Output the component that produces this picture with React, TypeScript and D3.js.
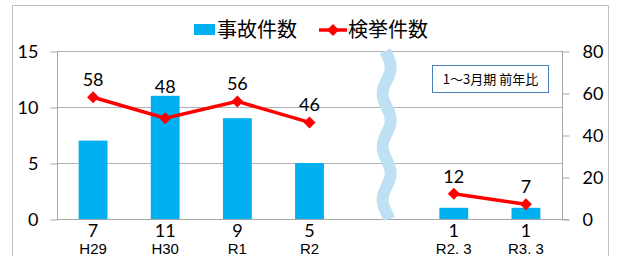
import React, { useEffect, useRef } from "react";
import * as d3 from "d3";

// categories (the empty slot is where the wave break sits)
const categories = ["H29", "H30", "R1", "R2", "gap", "R2. 3", "R3. 3"];
const accidents: (number | null)[] = [7, 11, 9, 5, null, 1, 1];
const arrests: (number | null)[] = [58, 48, 56, 46, null, 12, 7];
const leftTicks = [0, 5, 10, 15];
const rightTicks = [0, 20, 40, 60, 80];

const W = 618;
const H = 256;
const margin = { top: 51, left: 57, right: 56, bottom: 37 };

export default function App() {
  const ref = useRef<SVGSVGElement>(null);

  useEffect(() => {
    const svg = d3.select(ref.current);
    svg.selectAll("*").remove();

    const x = d3.scaleBand()
      .domain(categories)
      .range([margin.left, W - margin.right])
      .paddingInner(0.6)
      .paddingOuter(0.3);
    const yL = d3.scaleLinear().domain([0, 15]).range([H - margin.bottom, margin.top]);
    const yR = d3.scaleLinear().domain([0, 80]).range([H - margin.bottom, margin.top]);
    const x0 = margin.left, x1 = W - margin.right;
    const num = "Lato, 'Open Sans', sans-serif";
    const mid = (c: string) => x(c)! + x.bandwidth() / 2;

    // outer frame
    svg.append("path")
      .attr("d", `M12.5,${H}V5.5H608.5V${H}`)
      .attr("fill", "none")
      .attr("stroke", "#bfbfbf");

    // gridlines
    svg.append("g").selectAll("line").data(leftTicks.filter(t => t > 0)).join("line")
      .attr("x1", x0).attr("x2", x1)
      .attr("y1", d => Math.round(yL(d)) + 0.5).attr("y2", d => Math.round(yL(d)) + 0.5)
      .attr("stroke", "#b0b0b0");

    // axes
    const gl = svg.append("g").attr("transform", `translate(${x0 + 0.5},0.5)`)
      .call(d3.axisLeft(yL).tickValues(leftTicks).tickSize(7).tickPadding(12));
    const gr = svg.append("g").attr("transform", `translate(${x1 + 0.5},0.5)`)
      .call(d3.axisRight(yR).tickValues(rightTicks).tickSize(7).tickPadding(13));
    [gl, gr].forEach(g => {
      g.select(".domain").remove();
      g.selectAll(".tick line").attr("stroke", "#a6a6a6");
      g.selectAll("text").attr("font-family", num).attr("font-size", 18).attr("fill", "#000");
    });
    svg.append("line").attr("x1", x0 + 0.5).attr("x2", x0 + 0.5)
      .attr("y1", yL(15)).attr("y2", yL(0)).attr("stroke", "#a6a6a6");
    svg.append("line").attr("x1", x1 + 0.5).attr("x2", x1 + 0.5)
      .attr("y1", yL(15)).attr("y2", yL(0)).attr("stroke", "#a6a6a6");

    // bars
    svg.append("g").selectAll("rect")
      .data(categories.map((c, i) => ({ c, v: accidents[i] })).filter(d => d.v != null))
      .join("rect")
      .attr("x", d => x(d.c)!)
      .attr("width", x.bandwidth())
      .attr("y", d => yL(d.v as number))
      .attr("height", d => yL(0) - yL(d.v as number))
      .attr("fill", "#00b0f0");

    // baseline
    svg.append("line").attr("x1", x0).attr("x2", x1 + 7)
      .attr("y1", Math.round(yL(0)) + 0.5).attr("y2", Math.round(yL(0)) + 0.5)
      .attr("stroke", "#a6a6a6");

    // wave break
    const cx = mid("gap") + 5;
    const wave: [number, number][] = d3.range(yL(15), yL(0) + 0.1, 1)
      .map(y => [cx + 4 * Math.sin((2 * Math.PI * (y - 54)) / 53), y]);
    svg.append("path")
      .attr("d", d3.line()(wave)!)
      .attr("fill", "none")
      .attr("stroke", "#bde0f3")
      .attr("stroke-width", 12);

    // line series
    const pts = categories.map((c, i) => ({ c, v: arrests[i], b: accidents[i] }));
    const line = d3.line<{ c: string; v: number | null }>()
      .defined(d => d.v != null)
      .x(d => mid(d.c))
      .y(d => yR(d.v as number));
    svg.append("path")
      .attr("d", line(pts)!)
      .attr("fill", "none")
      .attr("stroke", "#ff0000")
      .attr("stroke-width", 3.5);
    const diamond = d3.symbol(d3.symbolSquare, 72)();
    svg.append("g").selectAll("path")
      .data(pts.filter(d => d.v != null))
      .join("path")
      .attr("d", diamond)
      .attr("transform", d => `translate(${mid(d.c)},${yR(d.v as number)}) rotate(45)`)
      .attr("fill", "#ff0000");

    // line labels (lifted above the bar when the bar top is higher)
    svg.append("g").selectAll("text")
      .data(pts.filter(d => d.v != null))
      .join("text")
      .attr("x", d => mid(d.c))
      .attr("y", d => {
        const m = yR(d.v as number);
        const b = yL(d.b as number);
        return b < m ? b - 3 : m - 11;
      })
      .attr("text-anchor", "middle")
      .attr("font-family", num).attr("font-size", 18)
      .text(d => String(d.v));

    // bar values + category labels below axis
    const cats = categories.map((c, i) => ({ c, v: accidents[i] })).filter(d => d.v != null);
    svg.append("g").selectAll("text")
      .data(cats).join("text")
      .attr("x", d => mid(d.c))
      .attr("y", 237)
      .attr("text-anchor", "middle")
      .attr("font-family", num).attr("font-size", 18)
      .text(d => String(d.v));
    svg.append("g").selectAll("text")
      .data(cats).join("text")
      .attr("x", d => mid(d.c))
      .attr("y", 254)
      .attr("text-anchor", "middle")
      .attr("font-family", "'Liberation Sans Narrow', 'Liberation Sans', Arial, sans-serif").attr("font-size", 15)
      .text(d => d.c);

    // annotation box
    svg.append("rect")
      .attr("x", 432.5).attr("y", 65.5).attr("width", 116).attr("height", 27)
      .attr("fill", "#fff").attr("stroke", "#4a7ebb");
    svg.append("text")
      .attr("x", 490.5).attr("y", 84)
      .attr("text-anchor", "middle")
      .attr("font-family", "'Noto Sans CJK JP', sans-serif").attr("font-size", 13)
      .text("1～3月期 前年比");

    // legend
    const lg = svg.append("g").attr("font-family", "'Noto Sans CJK JP', sans-serif").attr("font-size", 20);
    lg.append("rect").attr("x", 194).attr("y", 24).attr("width", 21).attr("height", 11).attr("fill", "#00b0f0");
    lg.append("text").attr("x", 217).attr("y", 37).text("事故件数");
    lg.append("line").attr("x1", 319).attr("x2", 347).attr("y1", 30).attr("y2", 30)
      .attr("stroke", "#ff0000").attr("stroke-width", 3.5);
    lg.append("path").attr("d", diamond).attr("transform", "translate(333,30) rotate(45)").attr("fill", "#ff0000");
    lg.append("text").attr("x", 348).attr("y", 37).text("検挙件数");
  }, []);

  return (
    <svg ref={ref} width={W} height={H}
      style={{ position: "absolute", left: 0, top: 0, background: "#fff" }} />
  );
}
